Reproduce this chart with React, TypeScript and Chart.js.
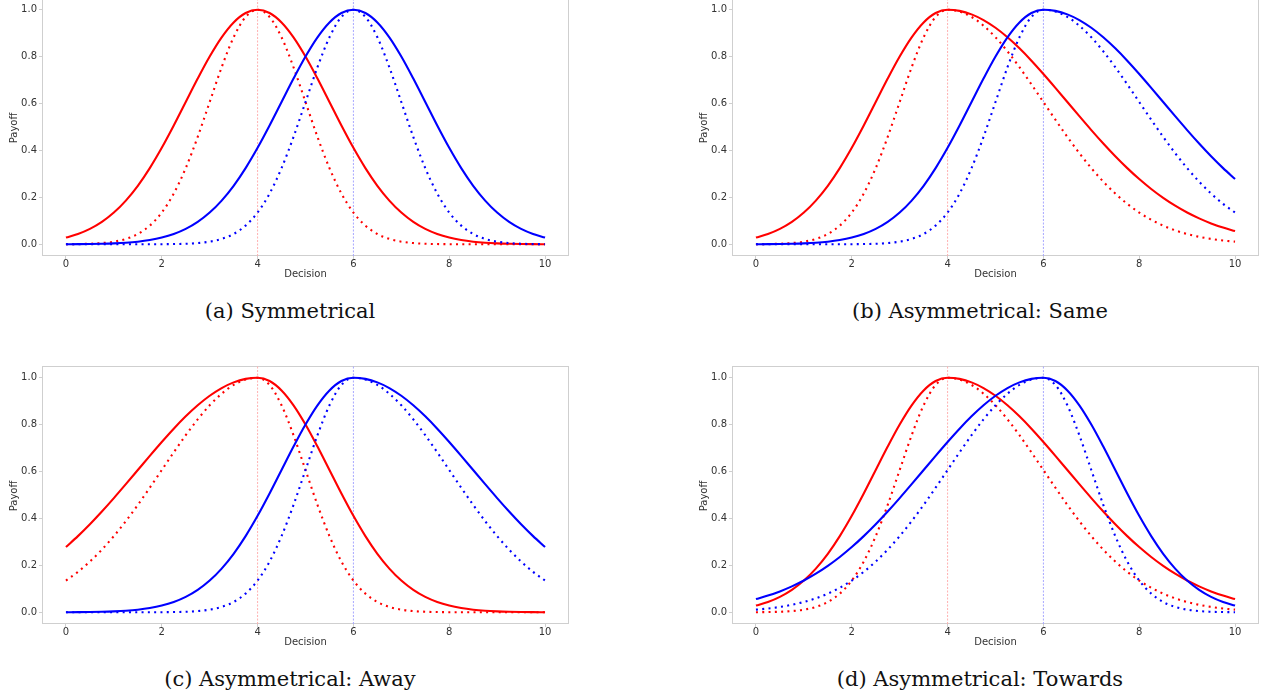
import React, { useEffect, useRef } from "react";
import { Chart, registerables } from "chart.js";

Chart.register(...registerables);

// ---------------- data ----------------
const decisions = [
  0, 0.25, 0.5, 0.75, 1, 1.25, 1.5, 1.75, 2, 2.25, 2.5, 2.75, 3, 3.25, 3.5, 3.75, 4, 4.25, 4.5, 4.75, 5,
  5.25, 5.5, 5.75, 6, 6.25, 6.5, 6.75, 7, 7.25, 7.5, 7.75, 8, 8.25, 8.5, 8.75, 9, 9.25, 9.5, 9.75, 10,
];
const decisionTicks = [0, 2, 4, 6, 8, 10];
const payoffTicks = [0, 0.2, 0.4, 0.6, 0.8, 1.0];
const redPeak = 4;
const bluePeak = 6;

// (a) Symmetrical
const symRedSolid = [
  0.0286, 0.0439, 0.0657, 0.0956, 0.1353, 0.1863, 0.2494, 0.3247, 0.4111, 0.5063, 0.6065, 0.7066, 0.8007,
  0.8825, 0.946, 0.9862, 1, 0.9862, 0.946, 0.8825, 0.8007, 0.7066, 0.6065, 0.5063, 0.4111, 0.3247, 0.2494,
  0.1863, 0.1353, 0.0956, 0.0657, 0.0439, 0.0286, 0.0181, 0.0111, 0.0066, 0.0039, 0.0022, 0.0012, 0.0006, 0.0003,
];
const symRedDotted = [
  0.0003, 0.0009, 0.0022, 0.0051, 0.0111, 0.0228, 0.0439, 0.0796, 0.1353, 0.2163, 0.3247, 0.4578, 0.6065,
  0.7548, 0.8825, 0.9692, 1, 0.9692, 0.8825, 0.7548, 0.6065, 0.4578, 0.3247, 0.2163, 0.1353, 0.0796, 0.0439,
  0.0228, 0.0111, 0.0051, 0.0022, 0.0009, 0.0003, 0.0001, 0, 0, 0, 0, 0, 0, 0,
];
const symBlueSolid = [
  0.0003, 0.0006, 0.0012, 0.0022, 0.0039, 0.0066, 0.0111, 0.0181, 0.0286, 0.0439, 0.0657, 0.0956, 0.1353,
  0.1863, 0.2494, 0.3247, 0.4111, 0.5063, 0.6065, 0.7066, 0.8007, 0.8825, 0.946, 0.9862, 1, 0.9862, 0.946,
  0.8825, 0.8007, 0.7066, 0.6065, 0.5063, 0.4111, 0.3247, 0.2494, 0.1863, 0.1353, 0.0956, 0.0657, 0.0439, 0.0286,
];
const symBlueDotted = [
  0, 0, 0, 0, 0, 0, 0, 0.0001, 0.0003, 0.0009, 0.0022, 0.0051, 0.0111, 0.0228, 0.0439, 0.0796, 0.1353, 0.2163,
  0.3247, 0.4578, 0.6065, 0.7548, 0.8825, 0.9692, 1, 0.9692, 0.8825, 0.7548, 0.6065, 0.4578, 0.3247, 0.2163,
  0.1353, 0.0796, 0.0439, 0.0228, 0.0111, 0.0051, 0.0022, 0.0009, 0.0003,
];

// shared asymmetric shapes
const redNarrowLeftSolid = [
  0.0286, 0.0439, 0.0657, 0.0956, 0.1353, 0.1863, 0.2494, 0.3247, 0.4111, 0.5063, 0.6065, 0.7066, 0.8007,
  0.8825, 0.946, 0.9862, 1, 0.995, 0.9802, 0.956, 0.9231, 0.8825, 0.8353, 0.7827, 0.7261, 0.667, 0.6065,
  0.5461, 0.4868, 0.4296, 0.3753, 0.3247, 0.278, 0.2357, 0.1979, 0.1645, 0.1353, 0.1103, 0.0889, 0.071, 0.0561,
];
const redNarrowLeftDotted = [
  0.0003, 0.0009, 0.0022, 0.0051, 0.0111, 0.0228, 0.0439, 0.0796, 0.1353, 0.2163, 0.3247, 0.4578, 0.6065,
  0.7548, 0.8825, 0.9692, 1, 0.9922, 0.9692, 0.9321, 0.8825, 0.8226, 0.7548, 0.6819, 0.6065, 0.5311, 0.4578,
  0.3886, 0.3247, 0.2671, 0.2163, 0.1724, 0.1353, 0.1046, 0.0796, 0.0596, 0.0439, 0.0319, 0.0228, 0.016, 0.0111,
];
const blueNarrowLeftSolid = [
  0.0003, 0.0006, 0.0012, 0.0022, 0.0039, 0.0066, 0.0111, 0.0181, 0.0286, 0.0439, 0.0657, 0.0956, 0.1353,
  0.1863, 0.2494, 0.3247, 0.4111, 0.5063, 0.6065, 0.7066, 0.8007, 0.8825, 0.946, 0.9862, 1, 0.995, 0.9802,
  0.956, 0.9231, 0.8825, 0.8353, 0.7827, 0.7261, 0.667, 0.6065, 0.5461, 0.4868, 0.4296, 0.3753, 0.3247, 0.278,
];
const blueNarrowLeftDotted = [
  0, 0, 0, 0, 0, 0, 0, 0.0001, 0.0003, 0.0009, 0.0022, 0.0051, 0.0111, 0.0228, 0.0439, 0.0796, 0.1353, 0.2163,
  0.3247, 0.4578, 0.6065, 0.7548, 0.8825, 0.9692, 1, 0.9922, 0.9692, 0.9321, 0.8825, 0.8226, 0.7548, 0.6819,
  0.6065, 0.5311, 0.4578, 0.3886, 0.3247, 0.2671, 0.2163, 0.1724, 0.1353,
];
const redWideLeftSolid = [
  0.278, 0.3247, 0.3753, 0.4296, 0.4868, 0.5461, 0.6065, 0.667, 0.7261, 0.7827, 0.8353, 0.8825, 0.9231, 0.956,
  0.9802, 0.995, 1, 0.9862, 0.946, 0.8825, 0.8007, 0.7066, 0.6065, 0.5063, 0.4111, 0.3247, 0.2494, 0.1863,
  0.1353, 0.0956, 0.0657, 0.0439, 0.0286, 0.0181, 0.0111, 0.0066, 0.0039, 0.0022, 0.0012, 0.0006, 0.0003,
];
const redWideLeftDotted = [
  0.1353, 0.1724, 0.2163, 0.2671, 0.3247, 0.3886, 0.4578, 0.5311, 0.6065, 0.6819, 0.7548, 0.8226, 0.8825,
  0.9321, 0.9692, 0.9922, 1, 0.9692, 0.8825, 0.7548, 0.6065, 0.4578, 0.3247, 0.2163, 0.1353, 0.0796, 0.0439,
  0.0228, 0.0111, 0.0051, 0.0022, 0.0009, 0.0003, 0.0001, 0, 0, 0, 0, 0, 0, 0,
];
const blueWideLeftSolid = [
  0.0561, 0.071, 0.0889, 0.1103, 0.1353, 0.1645, 0.1979, 0.2357, 0.278, 0.3247, 0.3753, 0.4296, 0.4868, 0.5461,
  0.6065, 0.667, 0.7261, 0.7827, 0.8353, 0.8825, 0.9231, 0.956, 0.9802, 0.995, 1, 0.9862, 0.946, 0.8825, 0.8007,
  0.7066, 0.6065, 0.5063, 0.4111, 0.3247, 0.2494, 0.1863, 0.1353, 0.0956, 0.0657, 0.0439, 0.0286,
];
const blueWideLeftDotted = [
  0.0111, 0.016, 0.0228, 0.0319, 0.0439, 0.0596, 0.0796, 0.1046, 0.1353, 0.1724, 0.2163, 0.2671, 0.3247,
  0.3886, 0.4578, 0.5311, 0.6065, 0.6819, 0.7548, 0.8226, 0.8825, 0.9321, 0.9692, 0.9922, 1, 0.9692, 0.8825,
  0.7548, 0.6065, 0.4578, 0.3247, 0.2163, 0.1353, 0.0796, 0.0439, 0.0228, 0.0111, 0.0051, 0.0022, 0.0009, 0.0003,
];

const captions = [
  "(a) Symmetrical",
  "(b) Asymmetrical: Same",
  "(c) Asymmetrical: Away",
  "(d) Asymmetrical: Towards",
];

// ---------------- styling / layout ----------------
const RED = "#ff0000";
const BLUE = "#0000ff";
const FRAME = "#cfcfcf";
const TEXT = "#333333";
const CANVAS_W = 590;
const CANVAS_H = 310;

type Panel = {
  caption: string;
  redSolid: number[];
  redDotted: number[];
  blueSolid: number[];
  blueDotted: number[];
  left: number;
  top: number;
};

const panels: Panel[] = [
  { caption: captions[0], redSolid: symRedSolid, redDotted: symRedDotted, blueSolid: symBlueSolid, blueDotted: symBlueDotted, left: 0, top: 0 },
  { caption: captions[1], redSolid: redNarrowLeftSolid, redDotted: redNarrowLeftDotted, blueSolid: blueNarrowLeftSolid, blueDotted: blueNarrowLeftDotted, left: 690, top: 0 },
  { caption: captions[2], redSolid: redWideLeftSolid, redDotted: redWideLeftDotted, blueSolid: blueNarrowLeftSolid, blueDotted: blueNarrowLeftDotted, left: 0, top: 368 },
  { caption: captions[3], redSolid: redNarrowLeftSolid, redDotted: redNarrowLeftDotted, blueSolid: blueWideLeftSolid, blueDotted: blueWideLeftDotted, left: 690, top: 368 },
];

const framePlugin = {
  id: "frameAndTitles",
  beforeDatasetsDraw(chart: any) {
    const { ctx, chartArea: a } = chart;
    ctx.save();
    ctx.strokeStyle = FRAME;
    ctx.lineWidth = 1;
    ctx.strokeRect(Math.round(a.left) + 0.5, Math.round(a.top) + 0.5, Math.round(a.right - a.left) - 1, Math.round(a.bottom - a.top) - 1);
    ctx.restore();
  },
  afterDraw(chart: any) {
    const { ctx, chartArea: a } = chart;
    ctx.save();
    ctx.fillStyle = TEXT;
    ctx.font = "10px 'DejaVu Sans'";
    ctx.textAlign = "center";
    ctx.textBaseline = "middle";
    ctx.fillText("Decision", (a.left + a.right) / 2, a.bottom + 18);
    ctx.translate(a.left - 28, (a.top + a.bottom) / 2 + 1);
    ctx.rotate(-Math.PI / 2);
    ctx.fillText("Payoff", 0, 0);
    ctx.restore();
  },
};

function toPoints(values: number[]) {
  return values.map((v, i) => ({ x: decisions[i], y: v }));
}

function PanelChart({ panel }: { panel: Panel }) {
  const ref = useRef<HTMLCanvasElement>(null);
  useEffect(() => {
    if (!ref.current) return;
    const curve = (values: number[], color: string, dotted: boolean, order: number) => ({
      data: toPoints(values),
      borderColor: color,
      borderWidth: 2.1,
      borderDash: dotted ? [2, 4.3] : [],
      borderCapStyle: "butt",
      pointRadius: 0,
      fill: false,
      cubicInterpolationMode: "monotone",
      order,
    });
    const vline = (x: number, color: string) => ({
      data: [
        { x, y: -0.05 },
        { x, y: 1.05 },
      ],
      borderColor: color,
      borderWidth: 1,
      borderDash: [2, 1.5],
      pointRadius: 0,
      fill: false,
      order: 10,
    });
    const chart = new Chart(ref.current, {
      type: "line",
      data: {
        datasets: [
          vline(redPeak, "#ffb0b0"),
          vline(bluePeak, "#a8a8ff"),
          curve(panel.redSolid, RED, false, 4),
          curve(panel.redDotted, RED, true, 3),
          curve(panel.blueSolid, BLUE, false, 2),
          curve(panel.blueDotted, BLUE, true, 1),
        ] as any,
      },
      options: {
        animation: false,
        responsive: false,
        devicePixelRatio: 1,
        layout: { padding: { left: 0, top: 18, right: 21, bottom: 0 } },
        plugins: { legend: { display: false }, tooltip: { enabled: false } },
        scales: {
          x: {
            type: "linear",
            min: -0.5,
            max: 10.5,
            afterFit: (s: any) => {
              s.height = 34;
            },
            afterBuildTicks: (s: any) => {
              s.ticks = decisionTicks.map((v) => ({ value: v }));
            },
            border: { display: false },
            grid: { display: true, drawOnChartArea: false, drawTicks: true, tickLength: 3, color: FRAME },
            ticks: {
              color: TEXT,
              font: { family: "'DejaVu Sans'", size: 10 },
              padding: -1,
              maxRotation: 0,
              callback: (v: any) => String(v),
            },
          },
          y: {
            type: "linear",
            min: -0.05,
            max: 1.05,
            afterFit: (s: any) => {
              s.width = 42;
            },
            afterBuildTicks: (s: any) => {
              s.ticks = payoffTicks.map((v) => ({ value: v }));
            },
            border: { display: false },
            grid: { display: true, drawOnChartArea: false, drawTicks: true, tickLength: 3, color: FRAME },
            ticks: {
              color: TEXT,
              font: { family: "'DejaVu Sans'", size: 10 },
              padding: 2,
              callback: (v: any) => Number(v).toFixed(1),
            },
          },
        },
      } as any,
      plugins: [framePlugin],
    });
    return () => chart.destroy();
  }, [panel]);

  return (
    <>
      <canvas
        ref={ref}
        width={CANVAS_W}
        height={CANVAS_H}
        style={{ position: "absolute", left: panel.left, top: panel.top - 20, width: CANVAS_W, height: CANVAS_H }}
      />
      <div
        style={{
          position: "absolute",
          left: panel.left + 290 - 250,
          top: panel.top + 301,
          width: 500,
          textAlign: "center",
          fontFamily: "'DejaVu Serif'",
          fontSize: 21,
          lineHeight: "21px",
          color: "#111",
          whiteSpace: "nowrap",
        }}
      >
        {panel.caption}
      </div>
    </>
  );
}

export default function App() {
  return (
    <div
      style={{
        position: "absolute",
        left: 0,
        top: 0,
        width: 1262,
        height: 698,
        overflow: "hidden",
        background: "#ffffff",
      }}
    >
      {panels.map((p, i) => (
        <PanelChart key={i} panel={p} />
      ))}
    </div>
  );
}
